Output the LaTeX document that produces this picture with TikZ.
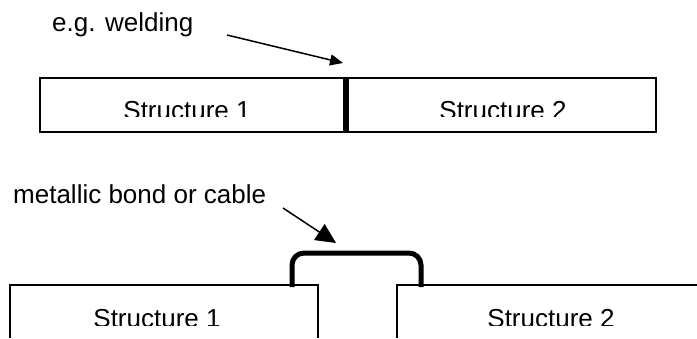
\documentclass[tikz,border=0pt]{standalone}
\usepackage{fontspec}
\setmainfont{Liberation Sans}
\usetikzlibrary{arrows.meta}
\begin{document}
\begin{tikzpicture}[x=1pt,y=-1pt,
  lbl/.style={inner sep=0pt,anchor=base west,font=\fontsize{26}{30}\selectfont},
  boxtxt/.style={inner sep=0pt,anchor=base,font=\fontsize{26}{30}\selectfont},
  edge/.style={line width=2pt},
  weld/.style={line width=6pt},
  bond/.style={line width=5pt,rounded corners=12pt},
  pointer/.style={line width=1.5pt}]
\useasboundingbox (0,0) rectangle (697,338);
% top row
\node[lbl] (weldlbl) at (52,31) {e.g. welding};
\coordinate (wa) at (227,35);
\coordinate (wb) at (343,63);
\draw[pointer,-{Triangle[length=13pt,width=11pt]}] (wa) -- (wb);
\draw[edge] (40,78) rectangle (656,132);
\coordinate (dtop) at (346,78);
\coordinate (dbot) at (346,132);
\draw[weld] (dtop) -- (dbot);
\begin{scope}
\clip (0,0) rectangle (697,116.5);
\node[boxtxt] (s1a) at (187,119) {Structure 1};
\node[boxtxt] (s2a) at (503,119) {Structure 2};
\end{scope}
% bottom row
\node[lbl] (bondlbl) at (13,203) {metallic bond or cable};
\coordinate (ba) at (283,208);
\coordinate (bb) at (336,243);
\draw[pointer,-{Triangle[length=20pt,width=19pt]}] (ba) -- (bb);
\draw[edge] (10,338) -- (10,285) -- (318,285) -- (318,338);
\draw[edge] (397,338) -- (397,285) -- (697,285);
\coordinate (bl) at (292,287);
\coordinate (br) at (421,287);
\draw[bond] (bl) -- (292,253) -- (421,253) -- (br);
\begin{scope}
\clip (0,0) rectangle (697,325);
\node[boxtxt] (s1b) at (157,327) {Structure 1};
\node[boxtxt] (s2b) at (551,327) {Structure 2};
\end{scope}
\end{tikzpicture}
\end{document}
